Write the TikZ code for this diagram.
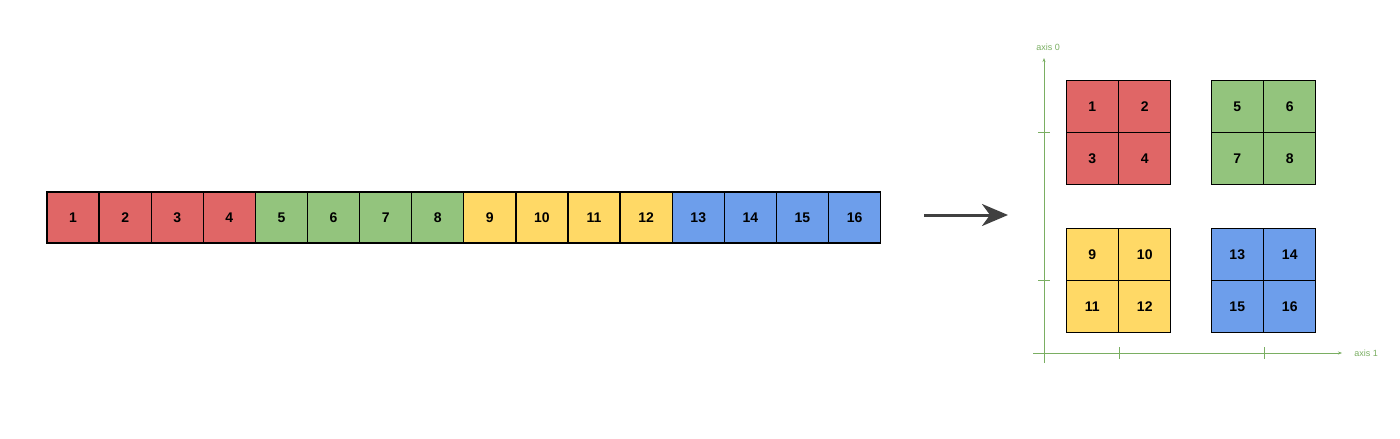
\documentclass[tikz,border=0pt]{standalone}
\usepackage{fontspec}
\setmainfont{Liberation Sans}
\usetikzlibrary{arrows.meta}
\definecolor{cred}{HTML}{E06666}
\definecolor{cgreen}{HTML}{93C47D}
\definecolor{cyellow}{HTML}{FFD966}
\definecolor{cblue}{HTML}{6D9EEB}
\definecolor{axisgreen}{HTML}{7AAE62}
\begin{document}
\begin{tikzpicture}[x=1pt,y=-1pt,
  cell/.style={draw=black,line width=1.3pt,minimum size=52pt,inner sep=0pt,text height=10pt,text depth=0pt,font=\fontsize{14}{16}\selectfont\bfseries},
  axisline/.style={draw=axisgreen,line width=.6pt},
  axislabel/.style={text=axisgreen,font=\fontsize{9}{10}\selectfont,inner sep=1pt}]
\useasboundingbox (0,0) rectangle (1400,439);
% flat row
\foreach \i/\c in {1/cred,2/cred,3/cred,4/cred,5/cgreen,6/cgreen,7/cgreen,8/cgreen,9/cyellow,10/cyellow,11/cyellow,12/cyellow,13/cblue,14/cblue,15/cblue,16/cblue}
  \node[cell,fill=\c,minimum width=52.1pt,minimum height=51pt] (r\i) at ({47+52.1*(\i-0.5)},217.5) {\i};
% arrow
\coordinate (a1) at (924,215);\coordinate (a2) at (1008,215);
\draw[-{Stealth[length=26pt,width=22pt,inset=8pt]},line width=3pt,draw=black!75,fill=black!75] (a1)--(a2);
% axes
\coordinate (o) at (1044,353);
\coordinate (ytop) at (1044,58);\coordinate (ybot) at (1044,363);
\coordinate (xl) at (1033,353);\coordinate (xr) at (1342,353);
\draw[axisline,-{Stealth[length=4pt,width=3pt]}] (ybot)--(ytop);
\draw[axisline,-{Stealth[length=4pt,width=3pt]}] (xl)--(xr);
\foreach \y in {132,280}\draw[axisline](1038,\y)--(1050,\y);
\foreach \x in {1119,1264}\draw[axisline](\x,347)--(\x,359);
\node[axislabel] (ax0) at (1048,47) {axis 0};
\node[axislabel] (ax1) at (1366,353) {axis 1};
% 2x2 blocks
\foreach \b/\bx/\by/\c in {0/1066/80/cred,1/1211/80/cgreen,2/1066/228/cyellow,3/1211/228/cblue}
  \foreach \k/\dx/\dy in {1/0/0,2/1/0,3/0/1,4/1/1}{
    \pgfmathtruncatemacro\n{4*\b+\k}
    \node[cell,fill=\c] (g\n) at ({\bx+26.25+52.5*\dx},{\by+26.25+52.5*\dy}) {\n};}
\end{tikzpicture}
\end{document}
